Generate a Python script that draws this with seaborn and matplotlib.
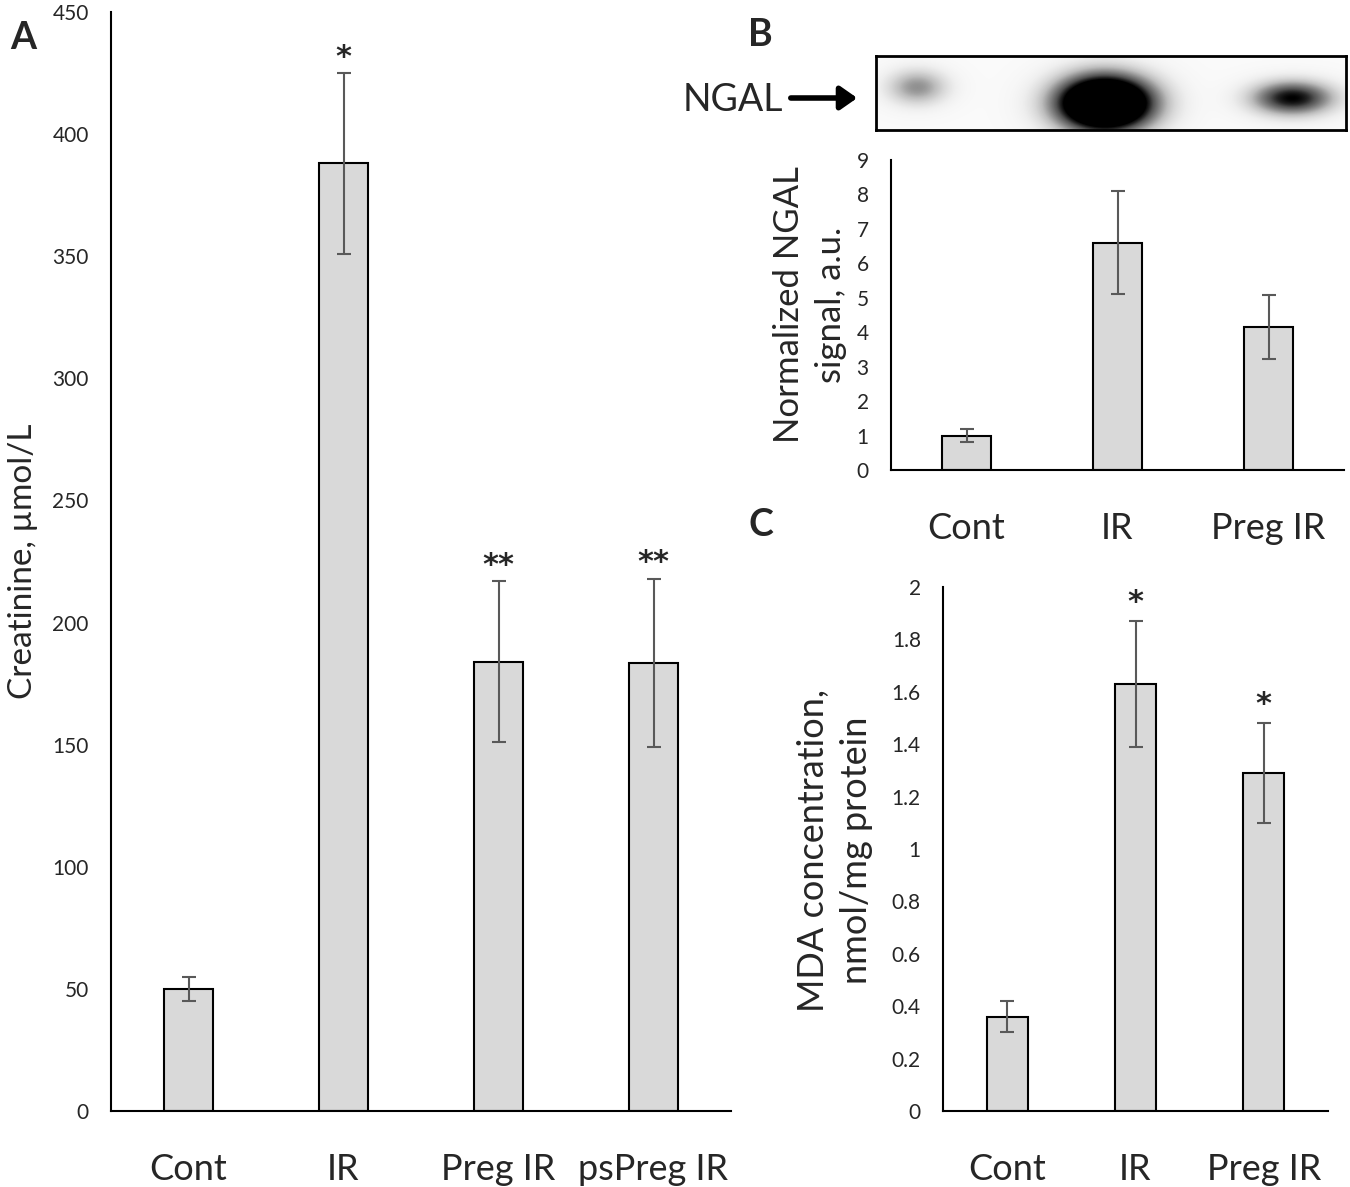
import numpy as np
import pandas as pd
import seaborn as sns
import matplotlib.pyplot as plt
from matplotlib.patches import FancyArrowPatch

# panel A: creatinine
a_groups = ['Cont', 'IR', 'Preg IR', 'psPreg IR']
a_values = [50, 388, 184, 183.5]
a_errors = [5, 37, 33, 34.5]
a_stars = ['', '*', '**', '**']

# panel B: normalized NGAL signal
b_groups = ['Cont', 'IR', 'Preg IR']
b_values = [1.0, 6.6, 4.15]
b_errors = [0.2, 1.5, 0.93]

# panel C: MDA concentration
c_groups = ['Cont', 'IR', 'Preg IR']
c_values = [0.36, 1.63, 1.29]
c_errors = [0.06, 0.24, 0.19]
c_stars = ['', '*', '*']

# western blot bands (Cont, IR, Preg IR): centre, spread, darkness
blot_pos = [0.087, 0.487, 0.887]
blot_row = [0.42, 0.64, 0.57]
blot_wx = [0.045, 0.07, 0.06]
blot_wy = [0.17, 0.26, 0.16]
blot_amp = [0.5, 2.2, 1.0]

sns.set_theme(style='white')
plt.rcParams['font.family'] = ['Lato', 'DejaVu Sans']

W, H = 1350, 1187
fig = plt.figure(figsize=(W / 100, H / 100), dpi=100)


def box(left, top, right, bottom):
    return [left / W, 1 - bottom / H, (right - left) / W, (bottom - top) / H]


def bar_panel(ax, groups, values, errors, ymax, ystep, fmt):
    df = pd.DataFrame({'group': groups, 'value': values})
    sns.barplot(data=df, x='group', y='value', ax=ax, color='#d9d9d9',
                edgecolor='black', linewidth=1.5, width=0.32, saturation=1,
                errorbar=None)
    ax.errorbar(range(len(groups)), values, yerr=errors, fmt='none',
                ecolor='#595959', elinewidth=1.5, capsize=5, capthick=1.5)
    ax.set_xlim(-0.5, len(groups) - 0.5)
    ax.set_ylim(0, ymax)
    ax.set_yticks(np.arange(0, ymax + ystep / 2, ystep))
    ax.set_yticklabels([fmt(t) for t in ax.get_yticks()], fontsize=15)
    ax.set_xlabel('')
    ax.set_ylabel('')
    ax.tick_params(axis='x', length=0, pad=30, labelsize=26)
    ax.tick_params(axis='y', length=0, pad=16)
    sns.despine(ax=ax)
    for s in ['left', 'bottom']:
        ax.spines[s].set_color('black')
        ax.spines[s].set_linewidth(1.5)


def stars(ax, marks, values, errors, gap):
    for i, s in enumerate(marks):
        if s:
            ax.annotate(s, (i, values[i] + errors[i]), xytext=(0, gap),
                        textcoords='offset pixels', ha='center', va='center',
                        fontsize=22, fontweight='bold', family='DejaVu Sans')


def tidy(t):
    if t == 0:
        return '0'
    return f'{t:.1f}'.rstrip('0').rstrip('.')


# A
axA = fig.add_axes(box(111, 12, 731, 1111))
bar_panel(axA, a_groups, a_values, a_errors, 450, 50, lambda t: f'{t:.0f}')
stars(axA, a_stars, a_values, a_errors, 16)
fig.text(23 / W, 1 - 561 / H, 'Creatinine, µmol/L', rotation=90, fontsize=24,
         ha='center', va='center')

# B chart
axB = fig.add_axes(box(891, 160, 1344, 470))
bar_panel(axB, b_groups, b_values, b_errors, 9, 1, lambda t: f'{t:.0f}')
fig.text(810 / W, 1 - 305 / H, 'Normalized NGAL\nsignal, a.u.', rotation=90,
         fontsize=25, ha='center', va='center', linespacing=1.35)

# C
axC = fig.add_axes(box(943, 587, 1328, 1111))
bar_panel(axC, c_groups, c_values, c_errors, 2, 0.2, tidy)
stars(axC, c_stars, c_values, c_errors, 19)
fig.text(835 / W, 1 - 850 / H, 'MDA concentration,\nnmol/mg protein',
         rotation=90, fontsize=26, ha='center', va='center', linespacing=1.35)

# blot image
axBlot = fig.add_axes(box(876, 56, 1346, 130))
xx, yy = np.meshgrid(np.linspace(0, 1, 470), np.linspace(0, 1, 74))
img = np.zeros_like(xx)
for px, py, wx, wy, amp in zip(blot_pos, blot_row, blot_wx, blot_wy, blot_amp):
    img += amp * np.exp(-(((xx - px) / wx) ** 2 + ((yy - py) / wy) ** 2) / 2)
img = np.clip(img, 0, 1) * 0.96 + 0.04
axBlot.imshow(img, cmap='Greys', vmin=0, vmax=1, aspect='auto',
              interpolation='bilinear')
axBlot.set_xticks([])
axBlot.set_yticks([])
for s in axBlot.spines.values():
    s.set_visible(True)
    s.set_color('black')
    s.set_linewidth(2)

fig.text(683 / W, 1 - 100 / H, 'NGAL', fontsize=27, va='center', ha='left')
fig.patches.append(FancyArrowPatch(
    (788 / W, 1 - 98 / H), (860 / W, 1 - 98 / H), transform=fig.transFigure,
    arrowstyle='-|>,head_length=10,head_width=7', linewidth=4, color='black',
    mutation_scale=1))

# panel letters
fig.text(10 / W, 1 - 38 / H, 'A', fontsize=27, fontweight='bold', va='center')
fig.text(748 / W, 1 - 35 / H, 'B', fontsize=27, fontweight='bold', va='center')
fig.text(748 / W, 1 - 525 / H, 'C', fontsize=27, fontweight='bold', va='center')

fig.savefig('out.png', dpi=100)
